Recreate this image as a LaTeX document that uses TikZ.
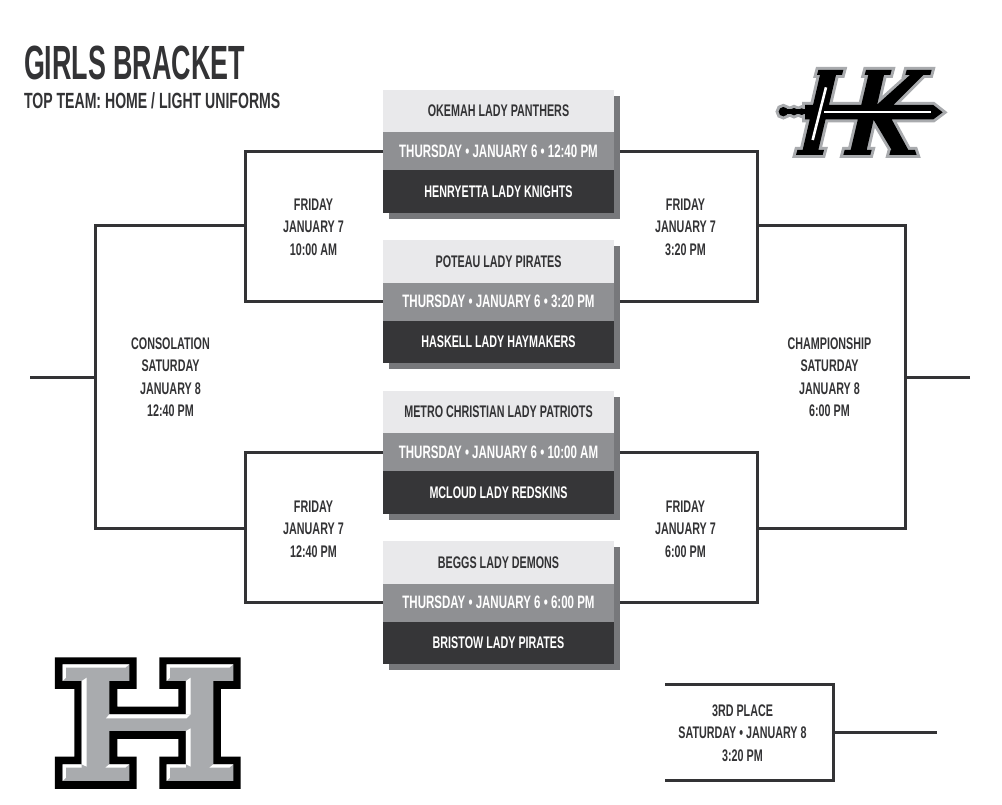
\documentclass[tikz,border=0pt]{standalone}
\usepackage{fontspec}
\setmainfont{Liberation Sans}[FakeStretch=0.64]
\newfontfamily\titlefont{Liberation Sans}[FakeStretch=0.56]
\usetikzlibrary{positioning, shadows}

\definecolor{lighttop}{HTML}{E9E9EB}
\definecolor{midbar}{HTML}{8F9093}
\definecolor{darkbot}{HTML}{363638}
\definecolor{shadowgray}{HTML}{77787B}
\definecolor{inkgray}{HTML}{333335}
\definecolor{logogray}{HTML}{A9ABAE}

% HK logo outline, units are 1/3 px
\def\hkoutline{
    (175,60) -- (250,60) -- (246,75) -- (228,75) -- (175,300) -- (192,300) -- (188,315) -- (108,315) -- (112,300) -- (128,300) -- (180,75) -- (171,75) -- cycle
    (318,60) -- (395,60) -- (391,75) -- (372,75) -- (320,300) -- (335,300) -- (331,315) -- (250,315) -- (254,300) -- (272,300) -- (325,75) -- (314,75) -- cycle
    (440,60) -- (515,60) -- (511,75) -- (490,75) -- (400,165) -- (350,165) -- (450,75) -- (436,75) -- cycle
    (340,208) -- (395,208) -- (445,300) -- (465,300) -- (470,315) -- (388,315) -- (392,300) -- (395,300) -- cycle
    (135,165) -- (520,165) -- (548,187) -- (520,208) -- (135,208) -- cycle
}
\def\hkpommel{(70,185) circle (14) (102,185) circle (11) (125,185) circle (10)}
\def\hkneck{(70,178) rectangle (135,192)}

\begin{document}
\begin{tikzpicture}[
        x=1pt, y=-1pt,
        node distance=0pt,
        every node/.style={align=center, inner sep=0pt, outer sep=0pt, text=inkgray, font=\fontsize{16.8}{22.5}\bfseries\selectfont},
        team/.style={minimum width=231pt, general shadow={fill=shadowgray, shadow xshift=6pt, shadow yshift=-6pt}},
        hometeam/.style={team, fill=lighttop, minimum height=42.5pt},
        datebar/.style={team, fill=midbar, minimum height=38pt, text=white, font=\fontsize{18}{20}\bfseries\selectfont},
        awayteam/.style={team, fill=darkbot, minimum height=42.5pt, text=white},
        bracket/.style={draw=inkgray, line width=3pt}
    ]
    \useasboundingbox (0,0) rectangle (1002,805);

    % Title
    \node[anchor=west, font=\fontsize{48}{48}\bfseries\titlefont] (title) at (24,63) {GIRLS BRACKET};
    \node[anchor=west, font=\fontsize{22}{22}\bfseries\selectfont] (subtitle) at (24,101) {TOP TEAM: HOME / LIGHT UNIFORMS};

    % Game 1
    \node[hometeam] (okemah) at (498.5,111) {OKEMAH LADY PANTHERS};
    \node[datebar, below=of okemah] (date1) {THURSDAY • JANUARY 6 • 12:40 PM};
    \node[awayteam, below=of date1] (henryetta) {HENRYETTA LADY KNIGHTS};

    % Game 2
    \node[hometeam, below=27.5pt of henryetta] (poteau) {POTEAU LADY PIRATES};
    \node[datebar, below=of poteau] (date2) {THURSDAY • JANUARY 6 • 3:20 PM};
    \node[awayteam, below=of date2] (haskell) {HASKELL LADY HAYMAKERS};

    % Game 3
    \node[hometeam, below=27.5pt of haskell] (metro) {METRO CHRISTIAN LADY PATRIOTS};
    \node[datebar, below=of metro] (date3) {THURSDAY • JANUARY 6 • 10:00 AM};
    \node[awayteam, below=of date3] (mcloud) {MCLOUD LADY REDSKINS};

    % Game 4
    \node[hometeam, below=27.5pt of mcloud] (beggs) {BEGGS LADY DEMONS};
    \node[datebar, below=of beggs] (date4) {THURSDAY • JANUARY 6 • 6:00 PM};
    \node[awayteam, below=of date4] (bristow) {BRISTOW LADY PIRATES};

    % Later rounds
    \node (semiA) at (313.5,227) {FRIDAY\\JANUARY 7\\10:00 AM};
    \node (semiB) at (685.5,227) {FRIDAY\\JANUARY 7\\3:20 PM};
    \node (semiC) at (313.5,529) {FRIDAY\\JANUARY 7\\12:40 PM};
    \node (semiD) at (685.5,529) {FRIDAY\\JANUARY 7\\6:00 PM};
    \node (consolation) at (170.5,377) {CONSOLATION\\SATURDAY\\JANUARY 8\\12:40 PM};
    \node (championship) at (829.5,377) {CHAMPIONSHIP\\SATURDAY\\JANUARY 8\\6:00 PM};
    \node (third) at (742.5,733) {3RD PLACE\\SATURDAY • JANUARY 8\\3:20 PM};

    % Junctions and free ends
    \coordinate (joinA) at (245,226);
    \coordinate (joinB) at (757,226);
    \coordinate (joinC) at (245,528);
    \coordinate (joinD) at (757,528);
    \coordinate (joinL) at (95,377);
    \coordinate (joinR) at (905,377);
    \coordinate (endL) at (30,377);
    \coordinate (endR) at (970,377);
    \coordinate (thirdTL) at (665,684);
    \coordinate (thirdR) at (833,732);
    \coordinate (thirdBL) at (665,780);
    \coordinate (endT) at (937,732);

    % Left side
    \draw[bracket] (date1.west) -| (joinA) |- (date2.west);
    \draw[bracket] (date3.west) -| (joinC) |- (date4.west);
    \draw[bracket] (joinA) -| (joinL) |- (joinC);
    \draw[bracket] (endL) -- (joinL);

    % Right side
    \draw[bracket] ([xshift=6pt]date1.east) -| (joinB) |- ([xshift=6pt]date2.east);
    \draw[bracket] ([xshift=6pt]date3.east) -| (joinD) |- ([xshift=6pt]date4.east);
    \draw[bracket] (joinB) -| (joinR) |- (joinD);
    \draw[bracket] (endR) -- (joinR);

    % 3rd place
    \draw[bracket] (thirdTL) -| (thirdR) |- (thirdBL);
    \draw[bracket] (thirdR) -- (endT);

    % HK logo
    \begin{scope}[shift={(760,50)}, x=0.3333pt, y=-0.3333pt]
        \draw[logogray, line width=6pt, line join=miter, miter limit=3] \hkoutline \hkpommel \hkneck;
        \fill[black] \hkoutline;
        \fill[black] \hkpommel;
        \fill[black] \hkneck;
        \draw[white, line width=1.8pt] (192,187) -- (512,187);
        \draw[white, line width=2.6pt] (198,112) -- (158,270);
    \end{scope}

    % H logo
    \begin{scope}[shift={(40,645)}, x=0.3333pt, y=-0.3333pt]
        \fill[black] (45,37) -- (290,37) -- (290,132) -- (232,132) -- (232,185) -- (415,185) -- (415,132) -- (358,132) -- (358,37) -- (602,37) -- (602,132) -- (543,132) -- (543,335) -- (602,335) -- (602,432) -- (358,432) -- (358,335) -- (415,335) -- (415,282) -- (232,282) -- (232,335) -- (290,335) -- (290,432) -- (45,432) -- (45,335) -- (103,335) -- (103,132) -- (45,132) -- cycle;
        \fill[logogray] (68,58) -- (268,58) -- (268,108) -- (208,108) -- (208,208) -- (438,208) -- (438,108) -- (380,108) -- (380,58) -- (580,58) -- (580,108) -- (520,108) -- (520,358) -- (580,358) -- (580,408) -- (380,408) -- (380,358) -- (438,358) -- (438,258) -- (208,258) -- (208,358) -- (268,358) -- (268,408) -- (68,408) -- (68,358) -- (125,358) -- (125,108) -- (68,108) -- cycle;
        \fill[white] (68,58) -- (268,58) -- (256,68) -- (78,68) -- (78,98) -- (68,108) -- cycle;
        \fill[white] (125,108) -- (140,98) -- (140,365) -- (125,358) -- cycle;
        \fill[white] (380,58) -- (580,58) -- (568,68) -- (390,68) -- (390,98) -- (380,108) -- cycle;
        \fill[white] (438,108) -- (452,98) -- (452,208) -- (438,208) -- cycle;
        \fill[white] (208,208) -- (452,208) -- (440,220) -- (198,220) -- cycle;
        \fill[white] (438,258) -- (452,250) -- (452,365) -- (438,358) -- cycle;
        \fill[white] (68,358) -- (125,358) -- (125,368) -- (78,368) -- (78,398) -- (68,408) -- cycle;
        \fill[white] (208,358) -- (268,358) -- (256,368) -- (196,368) -- cycle;
        \fill[white] (380,358) -- (438,358) -- (438,368) -- (390,368) -- (390,398) -- (380,408) -- cycle;
        \fill[white] (520,358) -- (580,358) -- (568,368) -- (508,368) -- cycle;
    \end{scope}
\end{tikzpicture}
\end{document}
